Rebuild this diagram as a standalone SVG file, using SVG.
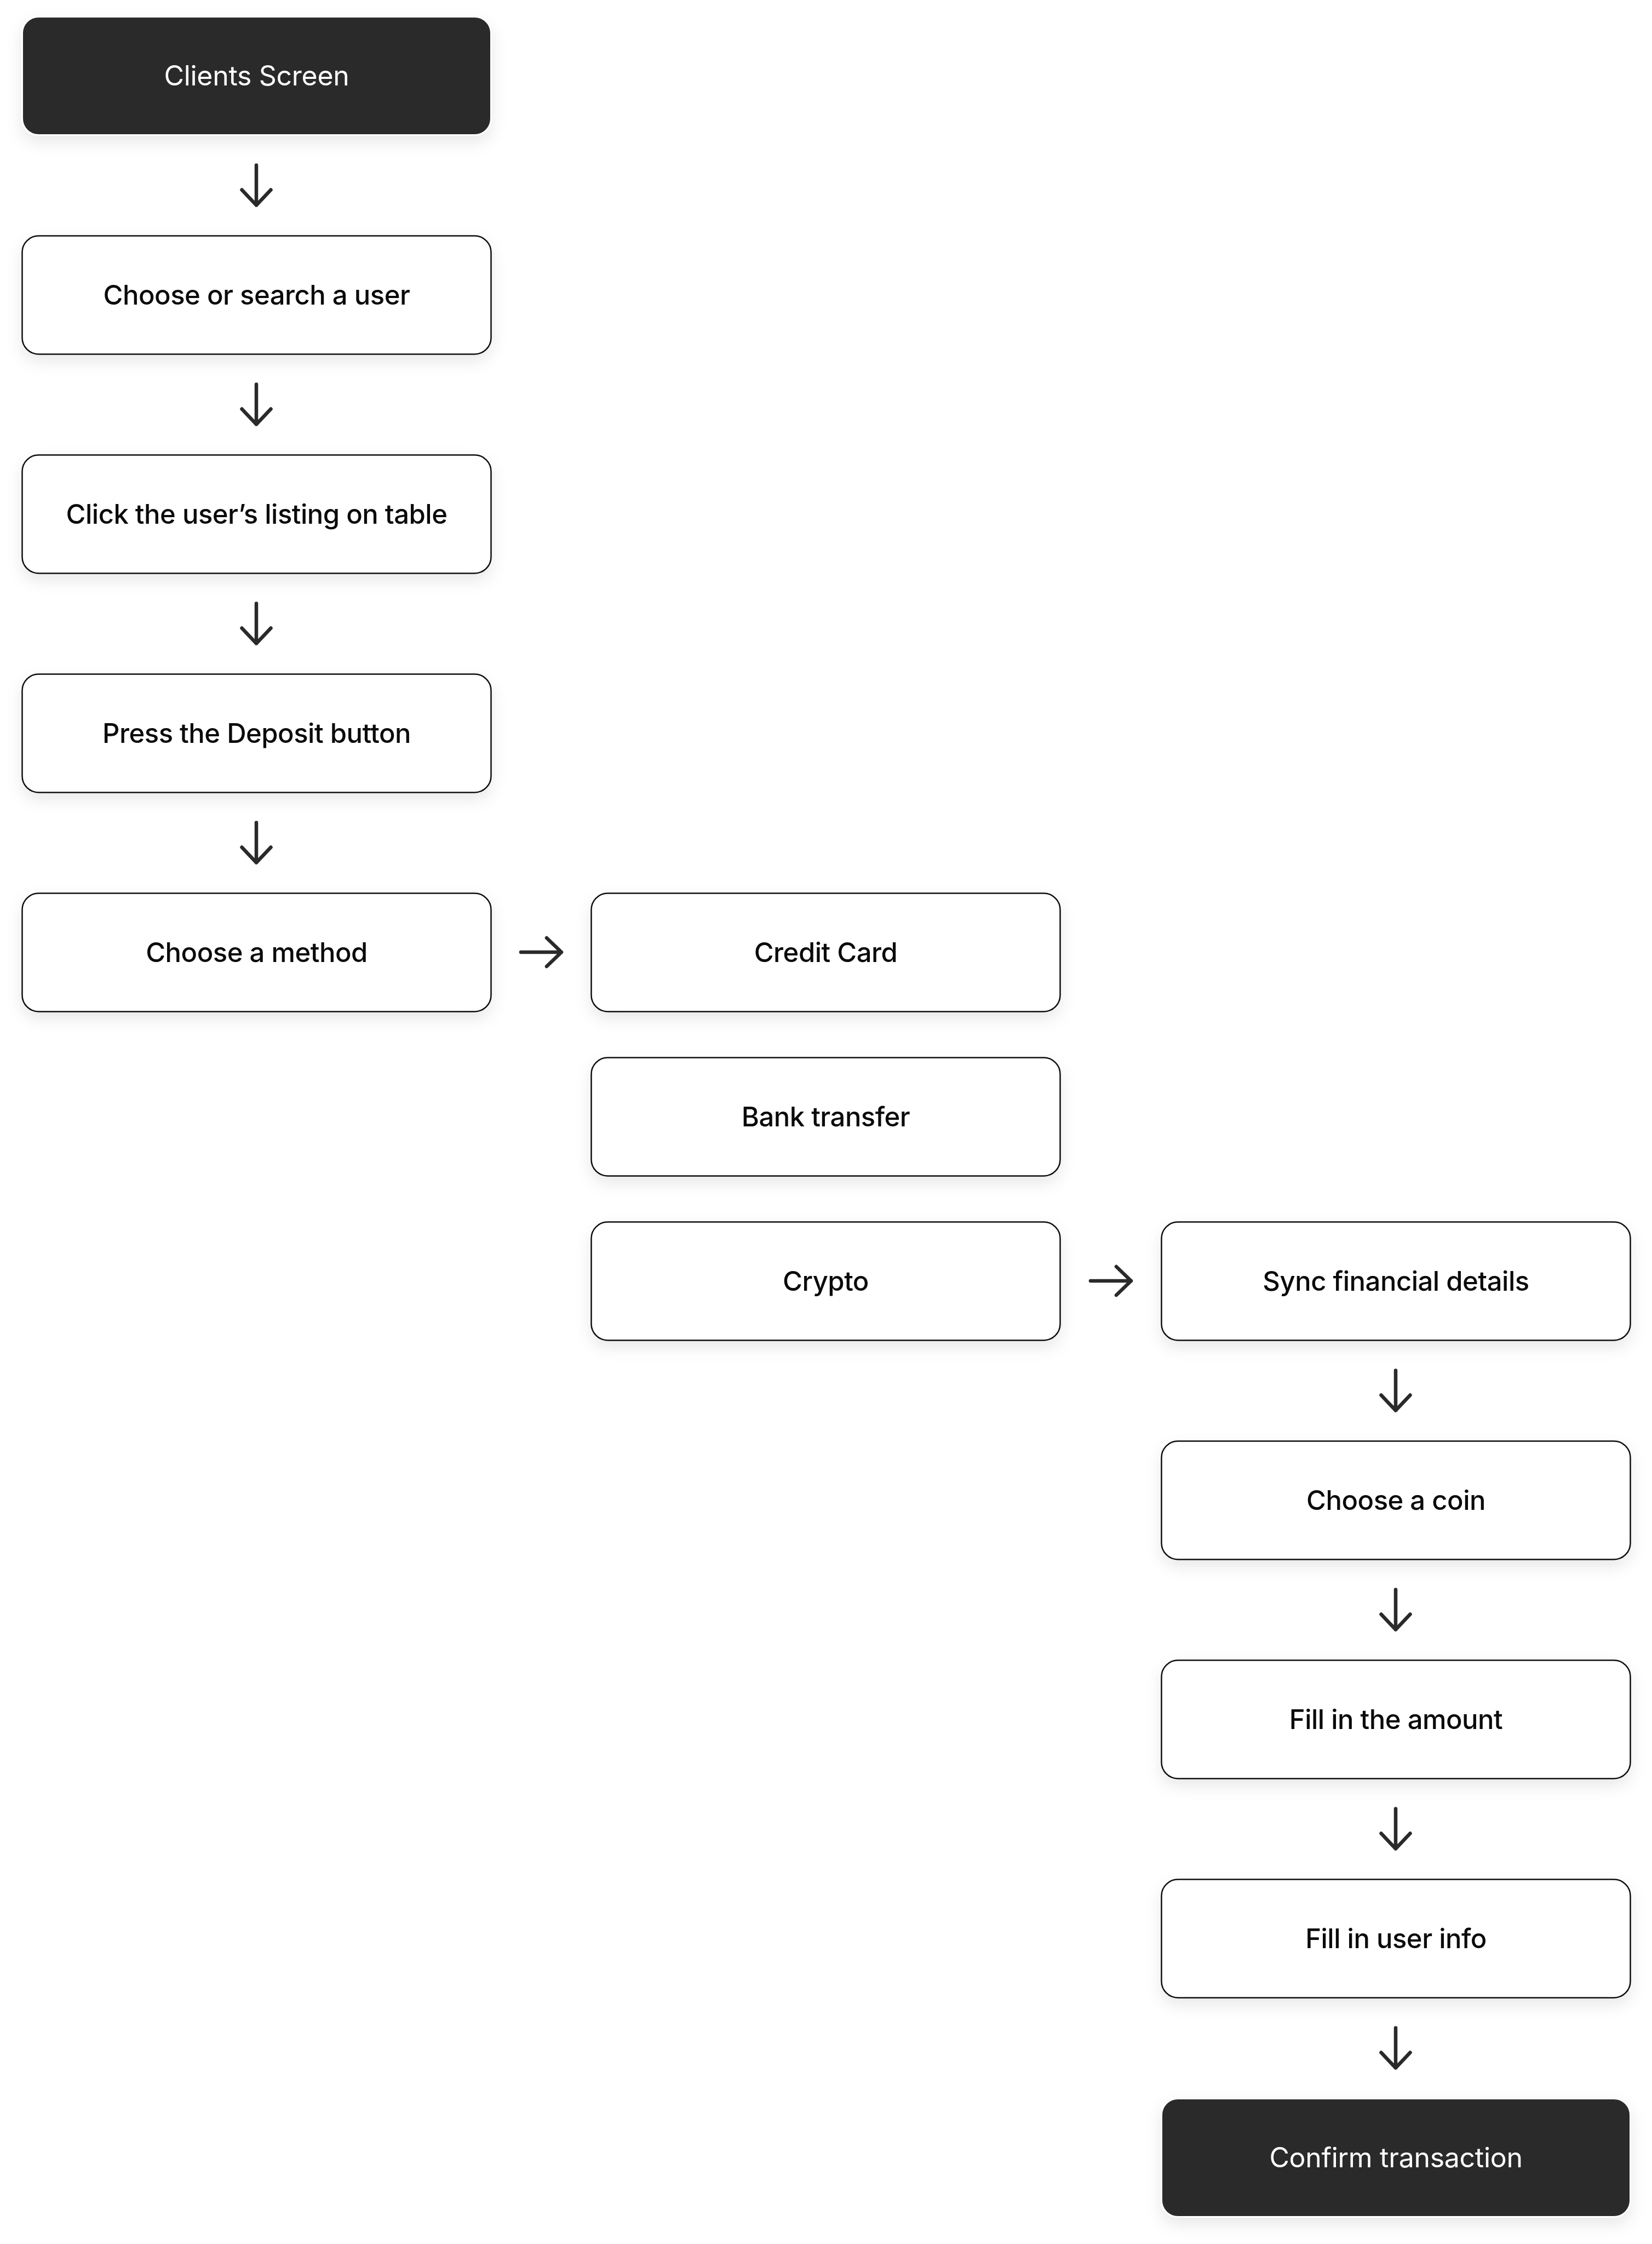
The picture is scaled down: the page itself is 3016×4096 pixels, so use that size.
<svg xmlns="http://www.w3.org/2000/svg" width="3016" height="4096" viewBox="0 0 3016 4096">
<style>
.box{fill:#ffffff;stroke:#111111;stroke-width:2.5;filter:url(#sh)}
.dark{fill:#2a2b2b;stroke:#ffffff;stroke-width:3;filter:url(#sh)}
.lbl{font-family:Inter,"Noto Sans","Liberation Sans",sans-serif;font-size:49px;font-weight:500;fill:#0a0a0a;text-anchor:middle;letter-spacing:-0.5px}
.lbl.w{fill:#ffffff;font-weight:400;font-size:50px;letter-spacing:-0.3px}
.arr{fill:none;stroke:#2a2a2a;stroke-width:6.5;stroke-linecap:round;stroke-linejoin:round}
</style>
<defs>
<filter id="sh" x="-10%" y="-30%" width="120%" height="170%">
<feDropShadow dx="0" dy="12" stdDeviation="14" flood-color="#000000" flood-opacity="0.09"/>
</filter>
<g id="down"><path class="arr" d="M0,-36.5 V36.5 M-26.5,8.5 L0,36.5 L26.5,8.5"/></g>
<g id="right"><path class="arr" d="M-37,0 H37 M10,-26 L37,0 L10,26"/></g>
</defs>
<rect width="3016" height="4096" fill="#ffffff"/>

<g id="n-clients"><rect class="dark" x="40.5" y="30.5" width="856" height="216" rx="30"/><text class="lbl w" x="468.5" y="156">Clients Screen</text></g>
<g id="n-choose-user"><rect class="box" x="40.5" y="430.5" width="856" height="216" rx="30"/><text class="lbl" x="468.5" y="556">Choose or search a user</text></g>
<g id="n-click-listing"><rect class="box" x="40.5" y="830.5" width="856" height="216" rx="30"/><text class="lbl" x="468.5" y="956">Click the user’s listing on table</text></g>
<g id="n-deposit"><rect class="box" x="40.5" y="1230.5" width="856" height="216" rx="30"/><text class="lbl" x="468.5" y="1356">Press the Deposit button</text></g>
<g id="n-method"><rect class="box" x="40.5" y="1630.5" width="856" height="216" rx="30"/><text class="lbl" x="468.5" y="1756">Choose a method</text></g>
<g id="n-credit"><rect class="box" x="1079.5" y="1630.5" width="856" height="216" rx="30"/><text class="lbl" x="1507.5" y="1756">Credit Card</text></g>
<g id="n-bank"><rect class="box" x="1079.5" y="1930.5" width="856" height="216" rx="30"/><text class="lbl" x="1507.5" y="2056">Bank transfer</text></g>
<g id="n-crypto"><rect class="box" x="1079.5" y="2230.5" width="856" height="216" rx="30"/><text class="lbl" x="1507.5" y="2356">Crypto</text></g>
<g id="n-sync"><rect class="box" x="2120.5" y="2230.5" width="856" height="216" rx="30"/><text class="lbl" x="2548.5" y="2356">Sync financial details</text></g>
<g id="n-coin"><rect class="box" x="2120.5" y="2630.5" width="856" height="216" rx="30"/><text class="lbl" x="2548.5" y="2756">Choose a coin</text></g>
<g id="n-amount"><rect class="box" x="2120.5" y="3030.5" width="856" height="216" rx="30"/><text class="lbl" x="2548.5" y="3156">Fill in the amount</text></g>
<g id="n-userinfo"><rect class="box" x="2120.5" y="3430.5" width="856" height="216" rx="30"/><text class="lbl" x="2548.5" y="3556">Fill in user info</text></g>
<g id="n-confirm"><rect class="dark" x="2120.5" y="3830.5" width="856" height="216" rx="30"/><text class="lbl w" x="2548.5" y="3956">Confirm transaction</text></g>

<g id="connectors">
<use href="#down" x="468" y="338"/>
<use href="#down" x="468" y="738"/>
<use href="#down" x="468" y="1138"/>
<use href="#down" x="468" y="1538"/>
<use href="#right" x="988" y="1738"/>
<use href="#right" x="2028" y="2338"/>
<use href="#down" x="2548" y="2538"/>
<use href="#down" x="2548" y="2938"/>
<use href="#down" x="2548" y="3338"/>
<use href="#down" x="2548" y="3738"/>
</g>
</svg>
